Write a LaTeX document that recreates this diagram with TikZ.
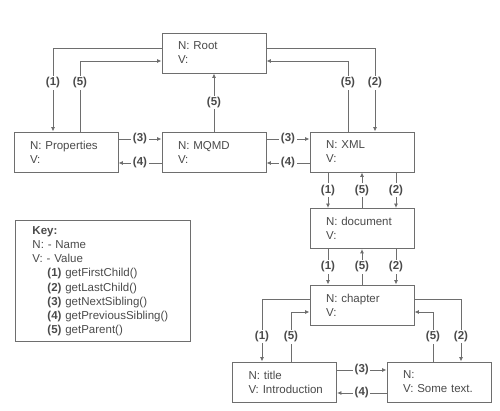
\documentclass[tikz,border=0pt]{standalone}
\usepackage{fontspec}
\setmainfont{Liberation Sans}
\usetikzlibrary{arrows.meta}
\definecolor{linecol}{HTML}{6E6E6E}
\definecolor{txtcol}{HTML}{4A4A4A}
\newcommand{\fsz}{\fontsize{11.5}{14}\selectfont}
\newcommand{\nv}[2]{\hspace*{8pt}#1\\\hspace*{8pt}#2}
\begin{document}
\begin{tikzpicture}[x=1pt,y=-1pt,
  box/.style={draw=linecol, line width=0.9pt, minimum width=104pt, minimum height=40pt,
    text width=88pt, inner xsep=8pt, align=left, font=\fsz, text=txtcol},
  conn/.style={draw=linecol, line width=0.9pt, -{Latex[length=4.5pt,width=4pt]}},
  lbl/.style={fill=white, inner sep=1.5pt, font=\fsz\bfseries, text=txtcol}]
\useasboundingbox (0,0) rectangle (500,411);

\node[box] (root) at (214,53) {\nv{N: Root}{V:}};
\node[box] (props) at (66,152) {\nv{N: Properties}{V:}};
\node[box] (mqmd) at (214,152) {\nv{N: MQMD}{V:}};
\node[box] (xml) at (362,152) {\nv{N: XML}{V:}};
\node[box] (doc) at (362,228.5) {\nv{N: document}{V:}};
\node[box] (chap) at (362,305) {\nv{N: chapter}{V:}};
\node[box] (title) at (284.5,382) {\nv{N: title}{V: Introduction}};
\node[box] (stext) at (439,382) {\nv{N:}{V: Some text.}};

% Root <-> Properties
\draw[conn] ([yshift=5pt]root.west) -| node[lbl,pos=0.708] (l1a) {(1)} ([xshift=-13pt]props.north);
\draw[conn] ([xshift=14pt]props.north) |- node[lbl,pos=0.345] (l5a) {(5)} ([yshift=-8pt]root.west);
% MQMD -> Root
\draw[conn] (mqmd.north) -- node[lbl] (l5b) {(5)} (root.south);
% Root <-> XML
\draw[conn] ([yshift=5pt]root.east) -| node[lbl,pos=0.708] (l2a) {(2)} ([xshift=13pt]xml.north);
\draw[conn] ([xshift=-14pt]xml.north) |- node[lbl,pos=0.345] (l5c) {(5)} ([yshift=-8pt]root.east);
% siblings top row
\draw[conn] ([yshift=13pt]props.east) -- node[lbl] (l3a) {(3)} ([yshift=13pt]mqmd.west);
\draw[conn] ([yshift=-11pt]mqmd.west) -- node[lbl] (l4a) {(4)} ([yshift=-11pt]props.east);
\draw[conn] ([yshift=13pt]mqmd.east) -- node[lbl] (l3b) {(3)} ([yshift=13pt]xml.west);
\draw[conn] ([yshift=-11pt]xml.west) -- node[lbl] (l4b) {(4)} ([yshift=-11pt]mqmd.east);
% XML <-> document
\draw[conn] ([xshift=-34pt]xml.south) -- node[lbl] (l1b) {(1)} ([xshift=-34pt]doc.north);
\draw[conn] (doc.north) -- node[lbl] (l5d) {(5)} (xml.south);
\draw[conn] ([xshift=34pt]xml.south) -- node[lbl] (l2b) {(2)} ([xshift=34pt]doc.north);
% document <-> chapter
\draw[conn] ([xshift=-34pt]doc.south) -- node[lbl] (l1c) {(1)} ([xshift=-34pt]chap.north);
\draw[conn] (chap.north) -- node[lbl] (l5e) {(5)} (doc.south);
\draw[conn] ([xshift=34pt]doc.south) -- node[lbl] (l2c) {(2)} ([xshift=34pt]chap.north);
% chapter <-> title / text
\draw[conn] ([yshift=6pt]chap.west) -| node[lbl,pos=0.8] (l1d) {(1)} ([xshift=-22.5pt]title.north);
\draw[conn] ([xshift=6.5pt]title.north) |- node[lbl,pos=0.25] (l5f) {(5)} ([yshift=-7pt]chap.west);
\draw[conn] ([yshift=6pt]chap.east) -| node[lbl,pos=0.8] (l2d) {(2)} ([xshift=22pt]stext.north);
\draw[conn] ([xshift=-6pt]stext.north) |- node[lbl,pos=0.25] (l5g) {(5)} ([yshift=-7pt]chap.east);
% title <-> text
\draw[conn] ([yshift=12pt]title.east) -- node[lbl] (l3c) {(3)} ([yshift=12pt]stext.west);
\draw[conn] ([yshift=-11pt]stext.west) -- node[lbl] (l4c) {(4)} ([yshift=-11pt]title.east);

% Key
\node[draw=linecol, line width=0.9pt, anchor=north west, minimum width=175pt,
  text width=141pt, inner xsep=17pt, inner ysep=6pt, align=left, font=\fsz, text=txtcol] (key) at (15,220) {%
  \fontsize{11.5}{14.2}\selectfont
  \textbf{Key:}\\
  N: - Name\\
  V: - Value\\
  \hspace*{15pt}\textbf{(1)} getFirstChild()\\
  \hspace*{15pt}\textbf{(2)} getLastChild()\\
  \hspace*{15pt}\textbf{(3)} getNextSibling()\\
  \hspace*{15pt}\textbf{(4)} getPreviousSibling()\\
  \hspace*{15pt}\textbf{(5)} getParent()};
\end{tikzpicture}
\end{document}
